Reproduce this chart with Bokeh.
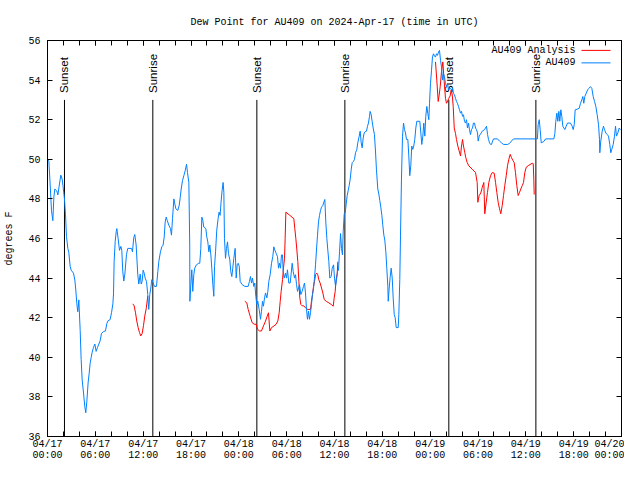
import math
import pandas as pd
from bokeh.plotting import figure
from bokeh.models import Range1d, FixedTicker, DatetimeTickFormatter, LinearAxis, DatetimeAxis
from bokeh.core.properties import value
from bokeh.embed import file_html
from bokeh.resources import INLINE

# ---------------- data (hours after 2024-04-17 00:00 UTC, degrees F) ----------------
obs_hours_d1 = [0.0, 0.17, 0.33, 0.5, 0.67, 0.8, 0.92, 1.17, 1.3, 1.5,
                1.67, 1.84, 1.96, 2.13, 2.26, 2.38, 2.55, 2.67, 2.84, 2.97,
                3.26, 3.43, 3.55, 3.68, 3.8, 3.93, 4.1, 4.22, 4.35, 4.52,
                4.68, 4.8, 4.93, 5.1, 5.23, 5.35, 5.48, 5.6, 5.77, 5.94,
                6.1, 6.27, 6.44, 6.6, 6.77, 7.02, 7.27, 7.44, 7.6, 7.85,
                8.03, 8.2, 8.28, 8.36, 8.49, 8.62, 8.7, 8.86, 9.03, 9.2,
                9.32, 9.44, 9.57, 9.7, 9.91, 10.07, 10.54, 10.66, 10.82, 10.95,
                11.12, 11.32, 11.45, 11.63, 11.75, 11.87, 12.0, 12.13, 12.25, 12.42,
                12.58, 12.7, 12.83, 12.96, 13.08, 13.25, 13.42, 13.67, 13.84, 13.96,
                14.17, 14.34, 14.5, 14.64, 14.76, 14.89, 15.01, 15.22, 15.43, 15.55,
                15.68, 15.85, 15.97, 16.1, 16.35, 16.52, 16.65, 16.77, 16.93, 17.1,
                17.27, 17.44, 17.56, 17.73, 17.84, 17.86, 17.98, 18.1, 18.22, 18.35,
                18.47, 18.68, 18.97, 19.1, 19.23, 19.36, 19.48, 19.6, 19.86, 19.98,
                20.11, 20.24, 20.36, 20.49, 20.61, 20.74, 20.86, 20.95, 21.08, 21.23,
                21.4, 21.52, 21.65, 21.77, 21.9, 22.03, 22.12, 22.2, 22.33, 22.45,
                22.58, 22.7, 22.87, 22.99, 23.12, 23.24, 23.37, 23.54, 23.67, 23.79,
                23.92]
obs_dewpt_d1 = [50.0, 49.9, 48.75, 47.4, 46.9, 48.1, 48.5, 48.4, 48.2, 48.75,
                49.2, 49.0, 48.6, 48.0, 47.2, 46.1, 45.5, 45.3, 44.6, 44.4,
                44.25, 43.9, 43.4, 42.7, 42.3, 42.9, 41.35, 39.9, 38.85, 38.2,
                37.5, 37.2, 37.75, 38.75, 39.2, 39.7, 40.0, 40.25, 40.5, 40.67,
                40.3, 40.5, 40.67, 40.83, 41.2, 41.3, 41.33, 41.7, 41.85, 41.9,
                42.25, 42.7, 43.2, 44.85, 45.85, 46.35, 46.5, 46.0, 45.4, 45.6,
                45.4, 44.35, 43.85, 44.2, 45.2, 45.5, 45.5, 45.33, 46.05, 46.2,
                45.67, 44.2, 43.7, 44.2, 43.7, 43.83, 44.4, 44.25, 44.0, 43.83,
                43.17, 42.42, 43.17, 43.5, 43.92, 43.75, 43.58, 43.58, 44.33, 44.83,
                45.33, 45.58, 45.67, 46.08, 46.83, 47.08, 46.92, 46.67, 46.5, 46.17,
                47.0, 48.0, 47.75, 47.5, 47.42, 47.67, 48.08, 48.5, 48.92, 49.17,
                49.42, 49.75, 49.33, 48.83, 45.67, 42.83, 43.67, 44.42, 43.33, 44.17,
                44.5, 44.67, 44.75, 44.75, 45.5, 47.08, 46.92, 46.58, 46.5, 46.08,
                45.83, 45.33, 45.67, 45.17, 44.5, 43.67, 43.08, 44.58, 45.33, 46.42,
                47.0, 47.33, 47.17, 47.83, 48.42, 48.83, 48.33, 46.0, 45.0, 45.5,
                45.83, 45.25, 44.92, 44.33, 44.08, 44.5, 45.0, 45.5, 44.0, 44.67,
                44.75]

obs_hours_d2 = [24.05, 24.17, 24.42, 24.75, 25.17, 25.33, 25.46, 25.59, 25.71, 25.88,
                26.0, 26.13, 26.25, 26.38, 26.55, 26.72, 26.84, 26.97, 27.09, 27.22,
                27.35, 27.51, 27.64, 27.76, 27.93, 28.1, 28.26, 28.39, 28.51, 28.68,
                28.85, 28.98, 29.1, 29.23, 29.35, 29.48, 29.56, 29.69, 29.85, 29.98,
                30.1, 30.27, 30.44, 30.57, 30.69, 30.82, 30.99, 31.11, 31.24, 31.36,
                31.49, 31.61, 31.78, 31.94, 32.11, 32.24, 32.36, 32.49, 32.61, 32.74,
                32.86, 32.99, 33.11, 33.24, 33.37, 33.49, 33.62, 33.74, 33.87, 33.99,
                34.12, 34.25, 34.37, 34.54, 34.66, 34.79, 34.91, 35.04, 35.16, 35.29,
                35.41, 35.58, 35.71, 35.88, 36.0, 36.13, 36.25, 36.38, 36.5, 36.63,
                36.76, 36.88, 37.0, 37.09, 37.22, 37.34, 37.47, 37.59, 37.72, 37.84,
                37.97, 38.1, 38.22, 38.39, 38.51, 38.64, 38.8, 38.92, 39.1, 39.22,
                39.35, 39.47, 39.6, 39.72, 39.85, 40.01, 40.14, 40.26, 40.39, 40.47,
                40.6, 40.72, 40.85, 41.01, 41.14, 41.26, 41.43, 41.56, 41.68, 41.81,
                41.94, 42.06, 42.19, 42.31, 42.44, 42.56, 42.69, 42.74, 42.86, 42.99,
                43.11, 43.24, 43.36, 43.49, 43.61, 43.74, 43.99, 44.07, 44.19, 44.28,
                44.4, 44.53, 44.66, 44.78, 44.91, 45.03, 45.2, 45.32, 45.44, 45.57,
                45.69, 45.82, 45.94, 46.07, 46.2, 46.32, 46.7, 46.83, 46.95, 47.08,
                47.2, 47.33, 47.45, 47.58, 47.7, 47.83, 47.92]
obs_dewpt_d2 = [44.6, 43.83, 43.67, 43.58, 43.58, 43.83, 44.08, 43.75, 44.0, 43.58,
                43.75, 43.08, 42.67, 42.83, 42.42, 41.92, 42.33, 42.83, 42.58, 43.0,
                43.25, 43.0, 43.33, 43.83, 44.17, 44.75, 45.08, 45.58, 45.42, 45.25,
                45.08, 44.5, 44.75, 44.5, 45.17, 45.17, 44.33, 44.0, 44.25, 44.0,
                44.42, 43.75, 43.75, 44.25, 44.75, 44.33, 44.0, 44.17, 43.67, 43.33,
                43.5, 43.67, 43.17, 43.33, 43.58, 43.75, 43.25, 42.42, 41.92, 42.33,
                41.92, 42.25, 42.67, 43.17, 43.5, 44.0, 44.67, 45.42, 46.17, 46.83,
                47.17, 47.42, 47.58, 47.67, 47.83, 47.97, 46.83, 46.0, 45.42, 44.83,
                44.0, 44.08, 44.5, 44.67, 44.0, 43.58, 43.9, 44.33, 44.4, 45.33,
                46.25, 45.5, 45.17, 46.33, 47.25, 47.3, 47.75, 48.17, 48.42, 48.67,
                49.0, 49.5, 49.83, 49.9, 50.0, 50.33, 50.5, 50.83, 51.17, 51.42,
                50.83, 50.58, 51.08, 51.33, 51.4, 51.42, 51.67, 51.83, 52.17, 52.42,
                52.25, 51.92, 51.58, 51.25, 50.42, 49.5, 48.5, 48.25, 47.92, 47.58,
                47.17, 46.67, 46.17, 45.92, 45.33, 44.5, 43.58, 42.83, 43.5, 44.08,
                44.5, 44.0, 43.0, 42.17, 42.0, 41.5, 41.5, 42.17, 43.92, 46.17,
                49.0, 51.17, 51.83, 51.5, 51.33, 51.0, 51.0, 50.17, 49.17, 49.67,
                50.67, 50.5, 50.67, 51.0, 51.58, 51.92, 51.92, 51.33, 50.75, 51.17,
                51.83, 51.17, 52.17, 52.67, 52.33, 52.0, 52.83]

obs_hours_d3 = [48.04, 48.17, 48.29, 48.42, 48.55, 48.67, 48.8, 48.92, 49.05, 49.17,
                49.3, 49.42, 49.55, 49.67, 49.8, 49.92, 50.05, 50.18, 50.3, 50.43,
                50.55, 50.68, 50.8, 50.93, 51.05, 51.18, 51.3, 51.43, 51.55, 51.68,
                51.81, 51.93, 52.06, 52.18, 52.31, 52.43, 52.56, 52.68, 52.81, 52.93,
                53.06, 53.18, 53.31, 53.43, 53.56, 53.69, 53.81, 53.94, 54.02, 54.15,
                54.28, 54.4, 54.53, 54.82, 55.07, 55.2, 55.32, 55.45, 55.58, 55.7,
                55.83, 55.95, 56.45, 56.7, 56.95, 57.2, 57.7, 57.95, 58.2, 58.45,
                61.45, 61.55, 61.68, 61.8, 61.93, 62.26, 62.47, 63.51, 63.64, 63.76,
                63.89, 64.01, 64.14, 64.26, 64.39, 64.51, 64.64, 64.89, 65.06, 65.23,
                65.6, 65.82, 65.94, 66.07, 66.19, 66.44, 66.7, 66.86, 67.02, 67.15,
                67.27, 67.4, 67.57, 67.74, 67.9, 68.11, 68.28, 68.45, 68.62, 68.78,
                68.95, 69.12, 69.24, 69.28, 69.4, 69.58, 69.74, 69.87, 70.03, 70.21,
                70.37, 70.53, 70.66, 70.78, 70.96, 71.12, 71.25, 71.37, 71.54, 71.71,
                71.88]
obs_dewpt_d3 = [53.83, 54.5, 55.17, 55.33, 55.2, 55.17, 55.33, 55.25, 55.42, 55.5,
                55.0, 54.67, 54.0, 54.33, 54.17, 53.83, 53.67, 53.83, 53.5, 53.58,
                53.58, 53.5, 53.58, 53.33, 53.25, 53.08, 52.92, 52.83, 52.67, 52.5,
                52.33, 52.42, 52.17, 52.25, 51.92, 51.83, 52.0, 51.58, 51.83, 51.5,
                51.25, 51.5, 51.58, 51.83, 51.83, 51.58, 51.5, 51.33, 50.92, 51.17,
                51.25, 51.33, 51.42, 51.5, 51.67, 51.25, 51.0, 50.83, 50.75, 50.75,
                50.92, 51.03, 51.03, 50.92, 50.83, 50.75, 50.75, 50.8, 50.92, 51.03,
                51.03, 51.75, 52.0, 51.5, 50.83, 50.9, 51.03, 51.03, 51.3, 51.92,
                52.33, 51.92, 52.42, 51.92, 52.5, 52.17, 51.67, 51.5, 51.67, 51.83,
                51.83, 51.67, 51.5, 51.75, 52.5, 52.53, 52.58, 52.83, 53.0, 53.17,
                52.83, 53.17, 53.33, 53.5, 53.58, 53.67, 53.58, 53.17, 52.92, 52.67,
                52.25, 51.75, 51.0, 50.33, 50.92, 51.42, 51.67, 51.5, 51.33, 51.25,
                51.17, 50.75, 50.33, 50.5, 50.75, 51.17, 51.67, 51.17, 51.33, 51.58,
                51.5]

ana_hours_d1 = [10.7, 10.87, 11.04, 11.2, 11.37, 11.54, 11.7, 11.87, 12.04, 12.2,
                12.4, 12.58]
ana_dewpt_d1 = [42.7, 42.6, 42.25, 41.83, 41.5, 41.25, 41.08, 41.2, 41.6, 42.08,
                42.5, 43.1]

ana_hours_d2 = [24.75, 25.0, 25.17, 25.42, 25.67, 25.92, 26.17, 26.34, 26.59, 26.84,
                27.09, 27.35, 27.56, 27.72, 27.89, 28.1, 28.39, 28.68, 28.89, 29.06,
                29.19, 29.31, 29.48, 29.6, 29.73, 29.81, 29.9, 30.4, 30.9, 31.02,
                31.15, 31.28, 31.4, 31.53, 31.65, 31.78, 31.94, 32.15, 32.36, 32.57,
                32.99, 33.11, 33.24, 33.37, 33.49, 33.62, 33.78, 33.9, 34.03, 34.2,
                34.37, 34.54, 34.71, 34.96, 35.29, 35.58, 35.84, 35.96, 36.09, 36.17,
                36.34, 36.42]
ana_dewpt_d2 = [42.83, 42.75, 42.42, 42.08, 41.75, 41.67, 41.67, 41.42, 41.33, 41.33,
                41.58, 41.83, 42.08, 42.25, 41.33, 41.5, 41.58, 41.67, 41.83, 42.25,
                42.83, 43.33, 43.92, 44.5, 45.0, 46.0, 47.33, 47.17, 47.0, 46.5,
                46.0, 45.42, 44.83, 43.83, 43.0, 42.67, 42.6, 42.6, 42.5, 42.42,
                42.42, 42.83, 43.17, 43.58, 43.83, 44.17, 44.25, 44.17, 43.92, 43.75,
                43.5, 43.25, 42.92, 42.83, 42.75, 42.67, 42.58, 43.0, 43.33, 43.83,
                44.25, 44.83]

ana_hours_d3 = [48.67, 48.83, 49.01, 49.13, 49.26, 49.42, 49.59, 49.76, 49.92, 50.05,
                50.2, 50.34, 50.5, 50.64, 50.77, 50.89, 51.02, 51.18, 51.3, 51.47,
                51.64, 51.81, 51.93, 52.06, 52.18, 52.35, 52.47, 52.65, 52.85, 53.27,
                53.69, 53.9, 53.98, 54.15, 54.35, 54.53, 54.73, 54.85, 55.03, 55.19,
                55.36, 55.57, 55.78, 56.03, 56.2, 56.36, 56.53, 56.7, 56.86, 57.04,
                57.2, 57.36, 57.54, 57.7, 57.87, 58.04, 58.2, 58.37, 58.54, 58.7,
                58.87, 59.04, 59.21, 59.37, 59.55, 59.71, 59.87, 60.05, 60.38, 60.8,
                60.93, 61.0, 61.05]
ana_dewpt_d3 = [54.92, 54.0, 52.92, 53.25, 53.67, 54.42, 54.92, 53.92, 53.08, 52.83,
                52.95, 53.08, 53.2, 53.5, 53.25, 52.67, 51.58, 51.3, 51.0, 50.67,
                50.42, 50.17, 50.67, 51.0, 50.67, 50.33, 50.08, 49.83, 49.67, 49.5,
                49.33, 48.83, 47.83, 48.17, 48.3, 48.58, 48.83, 47.25, 47.83, 48.33,
                48.83, 49.17, 49.33, 49.3, 48.83, 48.33, 47.83, 47.5, 47.25, 47.67,
                48.17, 48.67, 49.17, 49.67, 50.0, 50.25, 50.08, 49.95, 49.83, 49.33,
                48.67, 48.17, 48.33, 48.5, 48.67, 48.83, 49.33, 49.6, 49.7, 49.8,
                49.78, 49.0, 48.22]

sunset_hours = [2.13, 26.26, 50.34]
sunrise_hours = [13.21, 37.3, 61.26]

x_major_hours = [0, 6, 12, 18, 24, 30, 36, 42, 48, 54, 60, 66, 72]
x_minor_hours = list(range(0, 73, 2))
y_ticks = [36, 38, 40, 42, 44, 46, 48, 50, 52, 54, 56]

title_text = "Dew Point for AU409 on 2024-Apr-17 (time in UTC)"
legend_names = ["AU409 Analysis", "AU409"]

# ---------------- helpers ----------------
T0 = pd.Timestamp("2024-04-17 00:00").value // 10**6
H = 3600000.0


def ms(hours):
    return [T0 + h * H for h in hours]


RED = "#ff0000"
BLUE = "#0080ff"
MONO = "Liberation Mono"

p = figure(width=624, height=464, x_axis_type="datetime",
           output_backend="svg", toolbar_location=None,
           x_range=Range1d(T0, T0 + 72 * H), y_range=Range1d(36, 56),
           min_border_left=47, min_border_right=3,
           min_border_top=40, min_border_bottom=24)

p.title.text = title_text
p.title.align = "center"
p.title.text_font = MONO
p.title.text_font_size = "10px"
p.title.text_font_style = "normal"
p.title.text_color = "black"
p.title.standoff = 25

p.grid.visible = False
p.outline_line_color = "black"
p.outline_line_width = 1
p.outline_line_alpha = 1.0
p.background_fill_color = "white"
p.border_fill_color = "white"

xticker = FixedTicker(ticks=ms(x_major_hours), minor_ticks=ms(x_minor_hours))
yticker = FixedTicker(ticks=y_ticks, minor_ticks=[])
fmt = "%m/%d\n%H:%M"
xfmt = DatetimeTickFormatter(microseconds=fmt, milliseconds=fmt, seconds=fmt,
                             minsec=fmt, minutes=fmt, hourmin=fmt, hours=fmt,
                             days=fmt, months=fmt, years=fmt)


def style_axis(ax, labels=True):
    ax.axis_line_color = "black"
    ax.major_tick_in = 5
    ax.major_tick_out = 0
    ax.minor_tick_in = 5
    ax.minor_tick_out = 0
    ax.major_tick_line_color = "black"
    ax.minor_tick_line_color = "black"
    ax.major_label_text_font = MONO
    if labels:
        ax.major_label_text_color = "black"
        ax.major_label_text_font_size = "10px"
        ax.major_label_standoff = 7
    else:
        ax.major_label_text_color = None
        ax.major_label_text_font_size = "1px"
        ax.major_label_standoff = 0


xa = p.xaxis[0]
xa.ticker = xticker
xa.formatter = xfmt
style_axis(xa)
xa.major_label_text_line_height = 1.05
xa.major_label_standoff = 2

ya = p.yaxis[0]
ya.ticker = yticker
style_axis(ya)
ya.axis_label = "degrees F"
ya.axis_label_text_font = MONO
ya.axis_label_text_font_size = "10px"
ya.axis_label_text_font_style = "normal"
ya.axis_label_text_color = "black"
ya.axis_label_standoff = 10

top = DatetimeAxis(ticker=xticker, formatter=xfmt)
style_axis(top, labels=False)
p.add_layout(top, "above")

right = LinearAxis(ticker=yticker)
style_axis(right, labels=False)
p.add_layout(right, "right")

# sunrise / sunset markers
sun_hours = sunset_hours + sunrise_hours
sun_names = ["Sunset"] * len(sunset_hours) + ["Sunrise"] * len(sunrise_hours)
p.segment(x0=ms(sun_hours), y0=[36] * len(sun_hours), x1=ms(sun_hours),
          y1=[53] * len(sun_hours), line_color="black", line_width=1)
p.text(x=ms(sun_hours), y=[53.35] * len(sun_hours), text=sun_names,
       angle=math.pi / 2, text_align="left", text_baseline="middle",
       text_font=value("Liberation Sans"), text_font_size="11.5px",
       text_color="black")

# series
for hrs, vals in [(ana_hours_d1, ana_dewpt_d1), (ana_hours_d2, ana_dewpt_d2),
                  (ana_hours_d3, ana_dewpt_d3)]:
    p.line(ms(hrs), vals, line_color=RED, line_width=1)

obs_hours = obs_hours_d1 + obs_hours_d2 + obs_hours_d3
obs_dewpt = obs_dewpt_d1 + obs_dewpt_d2 + obs_dewpt_d3
p.line(ms(obs_hours), obs_dewpt, line_color=BLUE, line_width=1)

# legend (gnuplot style: text, then line sample)
leg_y = [55.5, 54.87]
p.text(x=ms([66.23, 66.23]), y=leg_y, text=legend_names,
       text_align="right", text_baseline="middle",
       text_font=value(MONO), text_font_size="10px", text_color="black")
p.segment(x0=ms([66.98, 66.98]), y0=leg_y, x1=ms([70.62, 70.62]), y1=leg_y,
          line_color=[RED, BLUE], line_width=1)

open("out.html", "w").write(file_html(p, INLINE))
